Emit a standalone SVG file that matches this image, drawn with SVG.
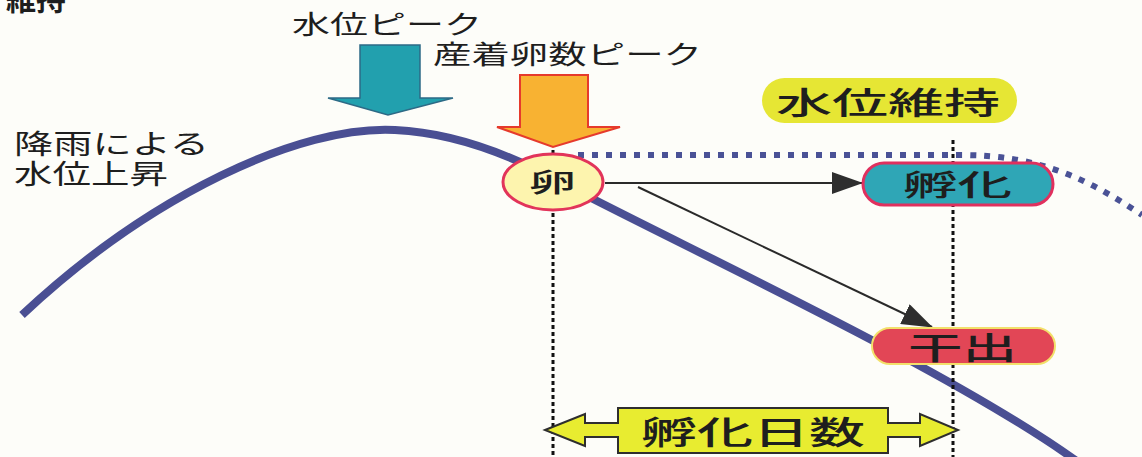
<svg xmlns="http://www.w3.org/2000/svg" width="1142" height="457" viewBox="0 0 1142 457">
<style>
text{font-family:"Noto Sans CJK JP","Noto Sans CJK SC",sans-serif;fill:#1e1e1e}
.lbl{font-weight:400}
.node{font-weight:500}
.vdot{stroke:#111;stroke-width:3;stroke-dasharray:4 3;fill:none}
.conn{stroke:#2a2a2a;stroke-width:2;fill:none}
</style>
<defs>
<marker id="ah" markerUnits="userSpaceOnUse" markerWidth="32" markerHeight="22" refX="30" refY="11" orient="auto">
<path d="M0,0 L31,11 L0,22 Z" fill="#2e2e2e"/>
</marker>
</defs>
<rect width="1142" height="457" fill="#fdfdf9"/>
<g id="water-level-curve">
<path d="M22,315 C150,195 300,125 395,130 C460,133 520,160 560,182 C700,255 950,370 1078,462" fill="none" stroke="#4a4f93" stroke-width="8"/>
<path d="M578,155 L960,155 C1040,155 1090,180 1142,215" fill="none" stroke="#4a5296" stroke-width="6" stroke-dasharray="6 8"/>
</g>
<g id="guides">
<line class="vdot" x1="553" y1="150" x2="553" y2="457"/>
<line class="vdot" x1="953" y1="140" x2="953" y2="457"/>
</g>
<g id="title-fragment">
<text x="66" y="10" text-anchor="end" font-size="30" font-weight="700">維持</text>
</g>
<g id="label-rain">
<text class="lbl" font-size="27"><tspan x="14" y="154" textLength="195" lengthAdjust="spacingAndGlyphs">降雨による</tspan><tspan x="14" y="184" textLength="154" lengthAdjust="spacingAndGlyphs">水位上昇</tspan></text>
</g>
<g id="water-peak">
<text class="lbl" x="292" y="34" font-size="26" textLength="190" lengthAdjust="spacingAndGlyphs">水位ピーク</text>
<polygon points="360,45 420,45 420,98 453,98 388,115 328,98 360,98" fill="#22a0ae" stroke="#2d6a86" stroke-width="1.5"/>
</g>
<g id="egg-peak">
<text class="lbl" x="433" y="64" font-size="26" textLength="269" lengthAdjust="spacingAndGlyphs">産着卵数ピーク</text>
<polygon points="520,75 588,75 588,127 620,127 553,147 497,127 520,127" fill="#f8b232" stroke="#e63a2c" stroke-width="2"/>
</g>
<g id="connectors">
<line class="conn" x1="605" y1="183" x2="862" y2="183" marker-end="url(#ah)"/>
<line class="conn" x1="638" y1="187" x2="932" y2="327" marker-end="url(#ah)"/>
</g>
<g id="egg">
<ellipse cx="553" cy="182" rx="50" ry="28" fill="#fdf4ae" stroke="#e2345a" stroke-width="3"/>
<text class="node" x="529" y="192" font-size="26" font-weight="700" textLength="47" lengthAdjust="spacingAndGlyphs">卵</text>
</g>
<g id="water-maintain">
<rect x="762" y="78" width="255" height="45" rx="22.5" fill="#e6e634"/>
<text class="node" x="776" y="114" font-size="31" textLength="224" lengthAdjust="spacingAndGlyphs">水位維持</text>
</g>
<g id="hatch">
<rect x="863" y="163" width="190" height="42" rx="21" fill="#2fa6b6" stroke="#e0305e" stroke-width="3"/>
<text class="node" x="903" y="196" font-size="29" textLength="109" lengthAdjust="spacingAndGlyphs">孵化</text>
</g>
<g id="dry-out">
<rect x="872" y="328" width="183" height="36" rx="18" fill="#e24656" stroke="#f2e06a" stroke-width="2"/>
<text class="node" x="908" y="359" font-size="31" textLength="109" lengthAdjust="spacingAndGlyphs">干出</text>
</g>
<g id="hatch-days">
<polygon points="545,430 585,414 585,423 618,423 618,408 888,408 888,423 920,423 920,414 958,430 920,446 920,437 888,437 888,453 618,453 618,437 585,437 585,446" fill="#e8ec30" stroke="#2e2e2e" stroke-width="2" stroke-linejoin="miter"/>
<text class="node" x="641" y="444" font-size="32" textLength="224" lengthAdjust="spacingAndGlyphs">孵化日数</text>
</g>
</svg>
